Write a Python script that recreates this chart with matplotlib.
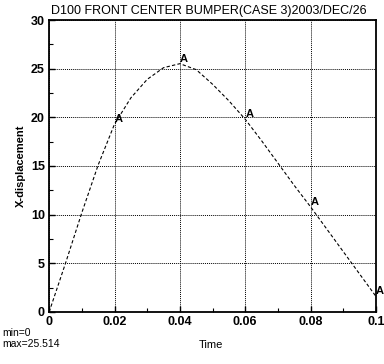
import numpy as np
import matplotlib as mpl
mpl.use('agg')
from matplotlib import pyplot as plt
from matplotlib.ticker import MultipleLocator

# curve
time = [0, 0.005, 0.01, 0.015, 0.02, 0.025, 0.03, 0.035, 0.04, 0.045,
        0.05, 0.055, 0.06, 0.065, 0.07, 0.075, 0.08, 0.085, 0.09, 0.095, 0.1]
xdisp = [0, 5.0, 10.2, 15.1, 19.3, 22.0, 23.9, 25.1, 25.514, 24.9,
         23.4, 21.7, 19.8, 17.6, 15.3, 13.0, 10.8, 8.5, 6.2, 3.9, 1.6]
# labelled points
mark_t = [0.02, 0.04, 0.06, 0.08, 0.1]
mark_y = [19.3, 25.514, 19.8, 10.8, 1.6]

plt.rcParams['font.family'] = ['Liberation Sans', 'DejaVu Sans']

fig = plt.figure(figsize=(3.84, 3.64), dpi=100)
ax = fig.add_axes([0.128, 0.143, 0.851, 0.802])

ax.plot(time, xdisp, color='black', linestyle=(0, (3, 2)), linewidth=0.8)
for t, y in zip(mark_t, mark_y):
    ax.annotate('A', (t, y), xytext=(0, 0), textcoords='offset points',
                fontsize=8, fontweight='bold', ha='left', va='bottom')

ax.set_xlim(0, 0.1)
ax.set_ylim(0, 30)
ax.xaxis.set_minor_locator(MultipleLocator(0.01))
ax.yaxis.set_major_locator(MultipleLocator(5))
ax.yaxis.set_minor_locator(MultipleLocator(2.5))
ax.set_xticks([0, 0.02, 0.04, 0.06, 0.08, 0.1])
ax.set_xticklabels(['0', '0.02', '0.04', '0.06', '0.08', '0.1'], fontweight='bold', fontsize=9)
for lbl in ax.get_yticklabels():
    lbl.set_fontweight('bold')
    lbl.set_fontsize(9)
ax.tick_params(which='both', direction='in', color='black', pad=3)
ax.tick_params(which='major', length=4, width=1)
ax.tick_params(which='minor', length=3, width=0.8)
ax.grid(True, which='major', color='black', linestyle=(0, (1, 1)), linewidth=0.7)
for s in ax.spines.values():
    s.set_linewidth(1.3)

ax.set_ylabel('X-displacement', fontsize=8, fontweight='bold')
fig.text(0.55, 0.052, 'Time', fontsize=8, ha='center', va='center')
fig.text(0.545, 0.953, 'D100 FRONT CENTER BUMPER(CASE 3)2003/DEC/26',
         fontsize=9, ha='center', va='bottom')
fig.text(0.005, 0.098, 'min=0\nmax=25.514', fontsize=7.5, ha='left', va='top',
         linespacing=1.1)

plt.savefig('out.png', dpi=100)
